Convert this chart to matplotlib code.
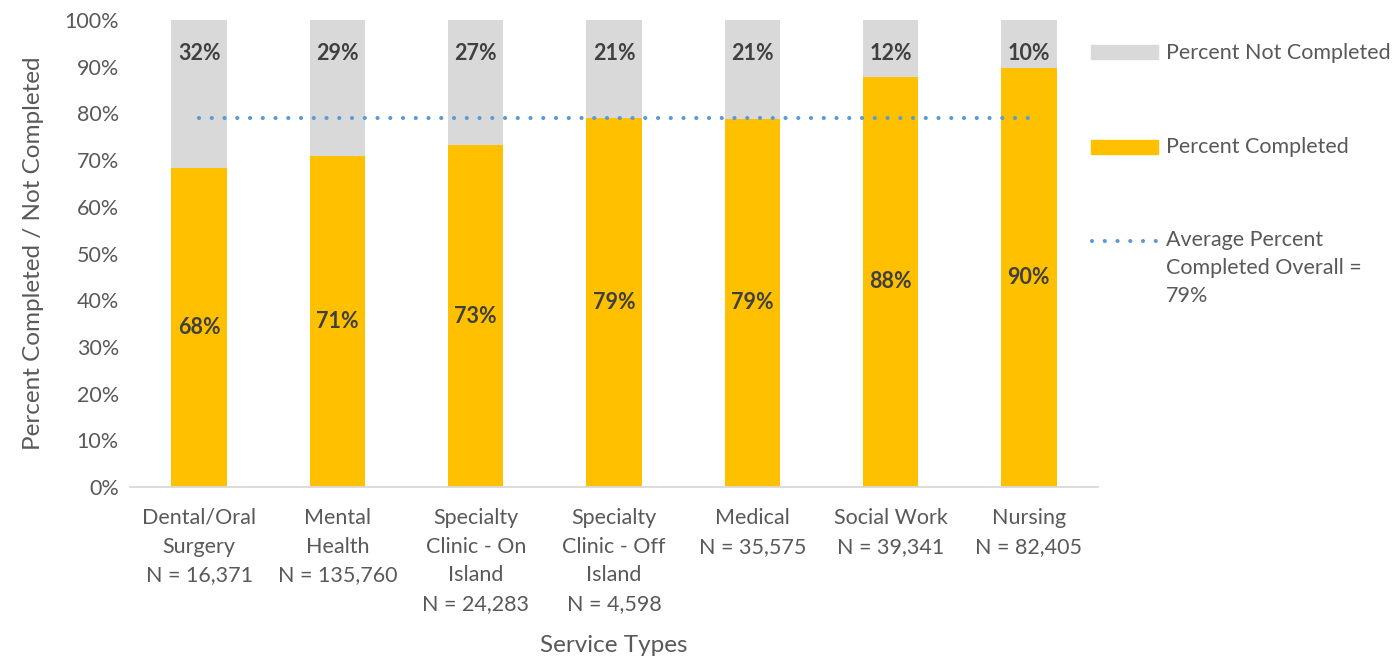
import matplotlib
matplotlib.use("Agg")
import matplotlib.pyplot as plt
from matplotlib.patches import Rectangle
from matplotlib.lines import Line2D

plt.rcParams['font.family'] = ['Lato', 'DejaVu Sans']

# Dados
categorias = ['Dental/Oral\nSurgery\nN = 16,371', 'Mental\nHealth\nN = 135,760',
              'Specialty\nClinic - On\nIsland\nN = 24,283', 'Specialty\nClinic - Off\nIsland\nN = 4,598',
              'Medical\nN = 35,575', 'Social Work\nN = 39,341', 'Nursing\nN = 82,405']
completo = [68.3, 70.8, 73.2, 79.1, 78.9, 87.8, 89.8]
nao_completo = [100 - v for v in completo]
rotulo_completo = ['68%', '71%', '73%', '79%', '79%', '88%', '90%']
rotulo_nao = ['32%', '29%', '27%', '21%', '21%', '12%', '10%']
media = [79, 79, 79, 79, 79, 79, 79]

amarelo = '#FFC000'
cinza = '#D9D9D9'
azul = '#5B9BD5'
texto = '#595959'
pontos = (0, (0.01, 3.05))

W, H = 1399, 658
fig = plt.figure(figsize=(W / 100, H / 100), dpi=100)
ax = fig.add_axes([130 / W, 1 - 487 / H, 968 / W, 467 / H])

x = range(len(categorias))
ax.bar(x, completo, width=0.4, color=amarelo)
ax.bar(x, nao_completo, bottom=completo, width=0.4, color=cinza)
ax.plot(x, media, color=azul, lw=3, linestyle=pontos, dash_capstyle='round')

for i in x:
    ax.text(i, completo[i] / 2, rotulo_completo[i], ha='center', va='center',
            fontsize=15.5, fontweight='bold', color='#404040')
    ax.annotate(rotulo_nao[i], (i, 100), xytext=(0, -24), textcoords='offset points',
                ha='center', va='center', fontsize=15.5, fontweight='bold', color='#404040')

ax.set_xlim(-0.5, 6.5)
ax.set_ylim(0, 100)
ax.set_yticks(range(0, 101, 10))
ax.set_yticklabels([f'{v}%' for v in range(0, 101, 10)])
ax.set_xticks(list(x))
ax.set_xticklabels(categorias, linespacing=1.55)
ax.tick_params(axis='both', length=0, labelsize=15.5, colors=texto)
ax.tick_params(axis='x', pad=15)
ax.tick_params(axis='y', pad=8)
for s in ['top', 'right', 'left']:
    ax.spines[s].set_visible(False)
ax.spines['bottom'].set_color(cinza)
ax.spines['bottom'].set_linewidth(1.3)

ax.set_ylabel('Percent Completed / Not Completed', fontsize=17.5, color=texto)
ax.yaxis.set_label_coords(-0.089, 0.5)
fig.text(614 / W, 1 - 645 / H, 'Service Types', ha='center', va='center', fontsize=17.5, color=texto)

# Legenda (à direita)
def fy(py):
    return 1 - py / H

fig.add_artist(Rectangle((1091 / W, fy(59)), 67 / W, 14 / H, color=cinza, transform=fig.transFigure))
fig.add_artist(Rectangle((1091 / W, fy(154)), 67 / W, 14 / H, color=amarelo, transform=fig.transFigure))
fig.add_artist(Line2D([1092 / W, 1157 / W], [fy(241), fy(241)], color=azul, lw=3,
                      linestyle=pontos, dash_capstyle='round', transform=fig.transFigure))
fig.text(1166 / W, fy(53), 'Percent Not Completed', ha='left', va='center', fontsize=15.5, color=texto)
fig.text(1166 / W, fy(147), 'Percent Completed', ha='left', va='center', fontsize=15.5, color=texto)
fig.text(1166 / W, fy(230), 'Average Percent\nCompleted Overall =\n79%', ha='left', va='top',
         fontsize=15.5, color=texto, linespacing=1.5)

fig.savefig('out.png', dpi=100)
